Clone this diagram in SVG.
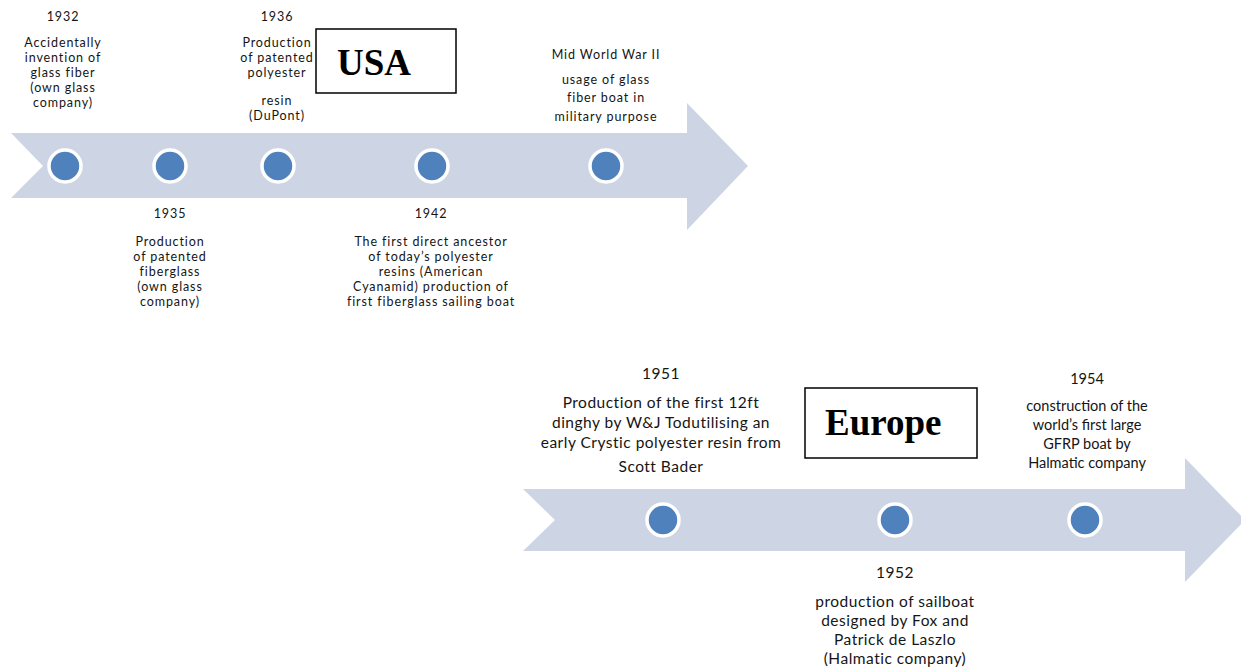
<svg xmlns="http://www.w3.org/2000/svg" width="1241" height="671" viewBox="0 0 1241 671">
<style>
.arrow{fill:#cdd5e4}
.dot{fill:#4f81bd;stroke:#ffffff;stroke-width:3.5}
.t{font-family:Lato,"Open Sans","Liberation Sans",sans-serif;font-size:12.5px;letter-spacing:0.9px;fill:#151515;text-anchor:middle}
.b{font-family:Lato,"Open Sans","Liberation Sans",sans-serif;font-size:15.5px;letter-spacing:0.5px;fill:#151515;text-anchor:middle}
.c{font-family:Lato,"Open Sans","Liberation Sans",sans-serif;font-size:14.5px;fill:#151515;text-anchor:middle}
.box{fill:#ffffff;stroke:#000000;stroke-width:1.5}
.lbl{font-family:"Liberation Serif","Times New Roman",serif;font-weight:bold;font-size:37px;fill:#000000}
</style>
<rect width="1241" height="671" fill="#ffffff"/>
<g id="connectors">
<polygon class="arrow" points="11,133 687,133 687,103 748,166 687,230 687,198 11,198 43,166"/>
<polygon class="arrow" points="523,489 1185,489 1185,458 1245,520 1185,582 1185,551 523,551 555,520"/>
</g>
<g id="e1932">
<circle class="dot" cx="65" cy="166" r="16"/>
<text class="t" x="63" y="21">1932</text>
<text class="t" x="63" y="47">Accidentally</text>
<text class="t" x="63" y="62">invention of</text>
<text class="t" x="63" y="77">glass fiber</text>
<text class="t" x="63" y="92">(own glass</text>
<text class="t" x="63" y="107">company)</text>
</g>
<g id="e1935">
<circle class="dot" cx="170" cy="166" r="16"/>
<text class="t" x="170" y="218">1935</text>
<text class="t" x="170" y="246">Production</text>
<text class="t" x="170" y="261">of patented</text>
<text class="t" x="170" y="276">fiberglass</text>
<text class="t" x="170" y="291">(own glass</text>
<text class="t" x="170" y="306">company)</text>
</g>
<g id="e1936">
<circle class="dot" cx="278" cy="166" r="16"/>
<text class="t" x="277" y="21">1936</text>
<text class="t" x="277" y="47">Production</text>
<text class="t" x="277" y="62">of patented</text>
<text class="t" x="277" y="77">polyester</text>
<text class="t" x="277" y="105">resin</text>
<text class="t" x="277" y="120">(DuPont)</text>
</g>
<g id="e1942">
<circle class="dot" cx="432" cy="166" r="16"/>
<text class="t" x="431" y="218">1942</text>
<text class="t" x="431" y="246">The first direct ancestor</text>
<text class="t" x="431" y="261">of today’s polyester</text>
<text class="t" x="431" y="276">resins (American</text>
<text class="t" x="431" y="291">Cyanamid) production of</text>
<text class="t" x="431" y="306">first fiberglass sailing boat</text>
</g>
<g id="eWW2">
<circle class="dot" cx="606" cy="166" r="16"/>
<text class="t" x="606" y="59">Mid World War II</text>
<text class="t" x="606" y="84">usage of glass</text>
<text class="t" x="606" y="102">fiber boat in</text>
<text class="t" x="606" y="121">military purpose</text>
</g>
<g id="usa">
<rect class="box" x="316" y="29" width="140" height="64"/>
<text class="lbl" x="337" y="75">USA</text>
</g>
<g id="e1951">
<circle class="dot" cx="663" cy="520" r="16"/>
<text class="b" x="661" y="379">1951</text>
<text class="b" x="661" y="408">Production of the first 12ft</text>
<text class="b" x="661" y="428">dinghy by W&amp;J Todutilising an</text>
<text class="b" x="661" y="448">early Crystic polyester resin from</text>
<text class="b" x="661" y="472">Scott Bader</text>
</g>
<g id="e1952">
<circle class="dot" cx="895" cy="520" r="16"/>
<text class="b" x="895" y="578">1952</text>
<text class="b" x="895" y="607">production of sailboat</text>
<text class="b" x="895" y="626">designed by Fox and</text>
<text class="b" x="895" y="645">Patrick de Laszlo</text>
<text class="b" x="895" y="664">(Halmatic company)</text>
</g>
<g id="e1954">
<circle class="dot" cx="1085" cy="520" r="16"/>
<text class="c" x="1087" y="384">1954</text>
<text class="c" x="1087" y="411">construction of the</text>
<text class="c" x="1087" y="430">world’s first large</text>
<text class="c" x="1087" y="449">GFRP boat by</text>
<text class="c" x="1087" y="468">Halmatic company</text>
</g>
<g id="europe">
<rect class="box" x="805" y="388" width="172" height="70"/>
<text class="lbl" x="825" y="435">Europe</text>
</g>
</svg>
